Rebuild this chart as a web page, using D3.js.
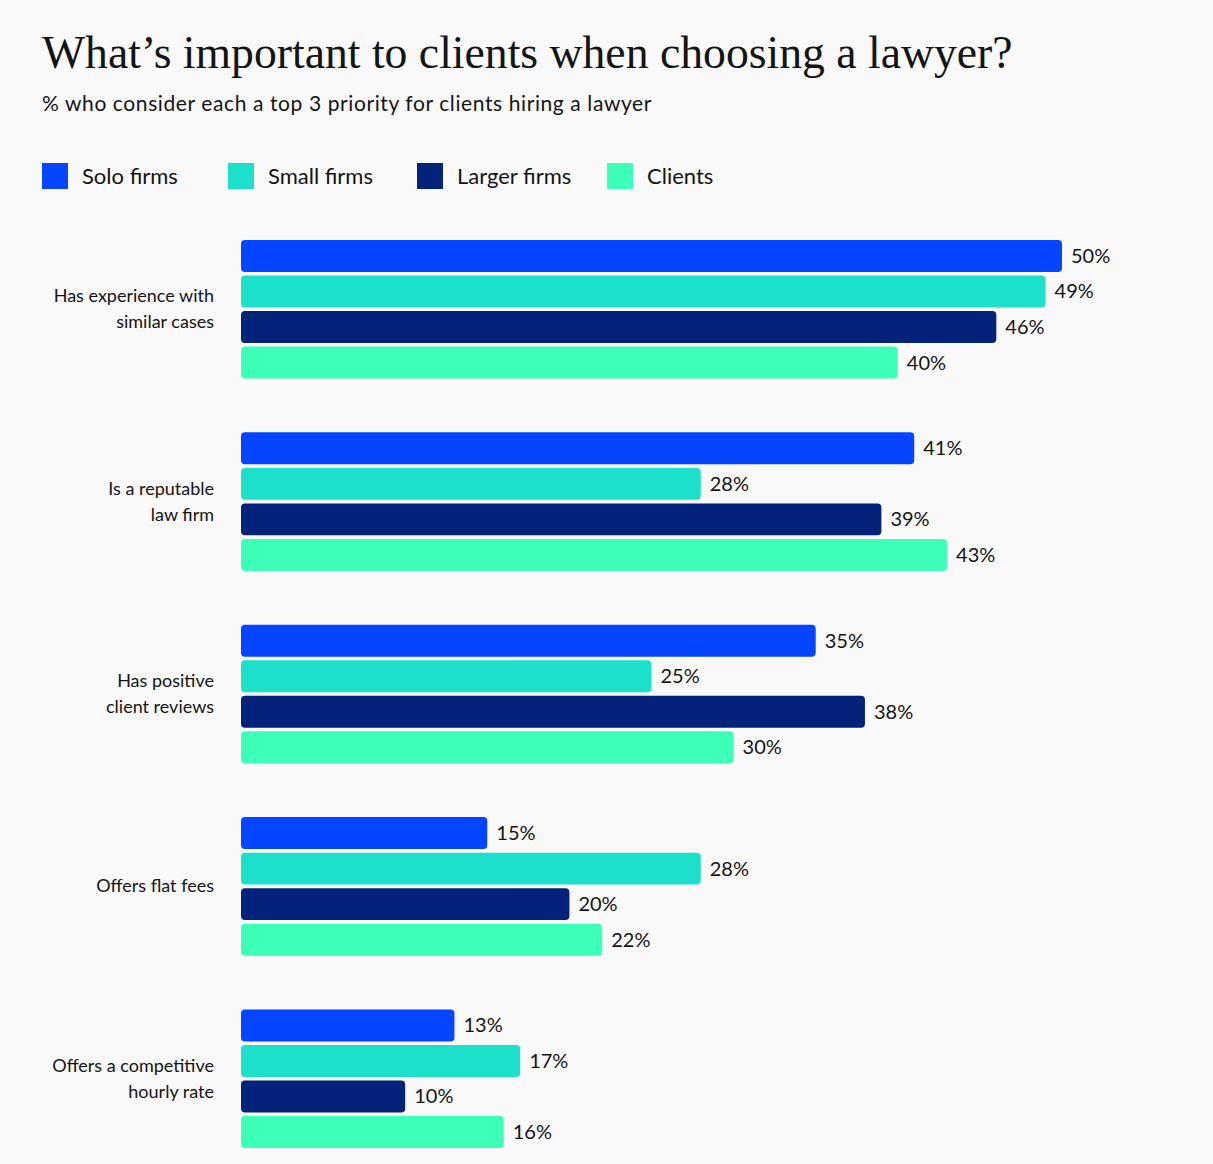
<!DOCTYPE html>
<html>
<head>
<meta charset="utf-8">
<script src="https://cdn.jsdelivr.net/npm/d3@7"></script>
<style>
  html, body { margin: 0; padding: 0; background: #f9f9f9; }
  svg { display: block; }
  .sans { font-family: Lato, "Noto Sans", sans-serif; }
</style>
</head>
<body>
<div id="chart"></div>
<script>
const categories = [
  ["Has experience with", "similar cases"],
  ["Is a reputable", "law firm"],
  ["Has positive", "client reviews"],
  ["Offers flat fees"],
  ["Offers a competitive", "hourly rate"]
];
const series = ["Solo firms", "Small firms", "Larger firms", "Clients"];
const colors = ["#0645ff", "#1de0cb", "#03237a", "#3cffb8"];
const solo = [50, 41, 35, 15, 13];
const small = [49, 28, 25, 28, 17];
const larger = [46, 39, 38, 20, 10];
const clients = [40, 43, 30, 22, 16];
const values = [solo, small, larger, clients];

const W = 1213, H = 1164;
const ink = "#141414";

const svg = d3.select("#chart").append("svg")
  .attr("width", W).attr("height", H);

svg.append("rect").attr("width", W).attr("height", H).attr("fill", "#f9f9f9");

svg.append("text")
  .attr("x", 42).attr("y", 68)
  .attr("font-family", "'Liberation Serif', 'DejaVu Serif', serif")
  .attr("font-size", 45.7)
  .attr("fill", ink)
  .text("What’s important to clients when choosing a lawyer?");

svg.append("text")
  .attr("class", "sans")
  .attr("x", 42).attr("y", 111)
  .attr("font-size", 21)
  .attr("letter-spacing", 0.6)
  .attr("fill", ink)
  .text("% who consider each a top 3 priority for clients hiring a lawyer");

// legend
const legendX = [42, 228, 417, 607];
const legend = svg.selectAll(".legend")
  .data(series)
  .join("g")
  .attr("transform", (d, i) => `translate(${legendX[i]},163)`);
legend.append("rect")
  .attr("width", 26).attr("height", 26)
  .attr("fill", (d, i) => colors[i]);
legend.append("text")
  .attr("class", "sans")
  .attr("x", 40).attr("y", 21)
  .attr("font-size", 22)
  .attr("fill", ink)
  .text(d => d);

const x = d3.scaleLinear().domain([0, 50]).range([241, 1062]);
const y0 = d3.scaleBand()
  .domain(d3.range(categories.length))
  .range([240, 1148])
  .paddingInner(0.28);
const y1 = d3.scaleBand()
  .domain(d3.range(series.length))
  .range([0, y0.bandwidth()])
  .paddingInner(0.1);

const groups = svg.selectAll(".group")
  .data(categories)
  .join("g")
  .attr("transform", (d, i) => `translate(0,${y0(i)})`);

// category labels
groups.append("text")
  .attr("class", "sans")
  .attr("text-anchor", "end")
  .attr("font-size", 18)
  .attr("fill", ink)
  .each(function(lines) {
    const t = d3.select(this);
    const lh = 26;
    const start = y0.bandwidth() / 2 - (lines.length - 1) * lh / 2 + 6;
    lines.forEach((l, k) => {
      t.append("tspan").attr("x", 214).attr("y", start + k * lh).text(l);
    });
  });

groups.each(function(cat, ci) {
  const g = d3.select(this);
  const rows = series.map((s, si) => ({ si, v: values[si][ci] }));
  g.selectAll("rect")
    .data(rows)
    .join("rect")
    .attr("x", x(0))
    .attr("y", d => y1(d.si))
    .attr("width", d => x(d.v) - x(0))
    .attr("height", y1.bandwidth())
    .attr("rx", 4)
    .attr("fill", d => colors[d.si]);
  g.selectAll(".val")
    .data(rows)
    .join("text")
    .attr("class", "sans val")
    .attr("x", d => x(d.v) + 9)
    .attr("y", d => y1(d.si) + y1.bandwidth() / 2 + 7)
    .attr("font-size", 20)
    .attr("fill", ink)
    .text(d => d.v + "%");
});
</script>
</body>
</html>
